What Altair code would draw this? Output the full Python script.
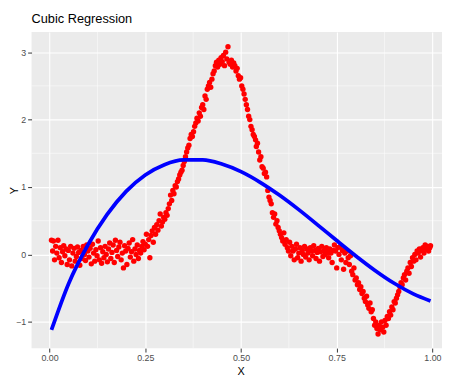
import altair as alt
import pandas as pd

# ---- data ----
seg_flat_left = [
    (0.005, 0.21), (0.008, 0.05), (0.010, 0.20), (0.013, -0.08), (0.016, 0.12), (0.019, 0.02),
    (0.022, 0.21), (0.025, -0.05), (0.028, 0.10), (0.031, -0.12), (0.034, 0.04), (0.037, 0.13),
    (0.040, -0.02), (0.043, 0.08), (0.046, -0.15), (0.049, 0.06), (0.052, -0.08), (0.055, 0.12),
    (0.058, -0.17), (0.061, 0.02), (0.064, 0.09), (0.067, -0.10), (0.070, -0.03), (0.073, 0.11),
    (0.076, 0.03), (0.079, -0.16), (0.082, 0.06), (0.085, -0.06), (0.088, 0.12), (0.091, 0.00),
    (0.094, -0.09), (0.097, 0.14), (0.100, 0.05), (0.103, -0.04), (0.106, 0.09), (0.109, -0.14),
    (0.112, 0.15), (0.115, 0.02), (0.118, -0.10), (0.121, 0.07), (0.124, -0.02), (0.127, 0.20),
    (0.130, -0.08), (0.133, 0.10), (0.136, -0.13), (0.139, 0.04), (0.142, -0.05), (0.145, 0.12),
    (0.148, 0.00), (0.151, -0.11), (0.154, 0.08), (0.157, 0.17), (0.160, -0.06), (0.163, 0.03),
    (0.166, 0.14), (0.169, -0.12), (0.172, 0.21), (0.175, 0.06), (0.178, -0.03), (0.181, 0.11),
    (0.184, 0.18), (0.187, -0.08), (0.190, 0.02), (0.193, -0.20), (0.196, 0.13), (0.199, 0.05),
    (0.202, -0.15), (0.205, 0.09), (0.208, 0.17), (0.211, -0.04), (0.214, 0.04), (0.217, 0.22),
    (0.220, -0.10), (0.223, 0.08), (0.226, 0.00), (0.229, 0.14), (0.232, -0.06), (0.235, 0.06),
    (0.238, 0.02), (0.241, 0.12), (0.244, 0.19), (0.247, 0.07),
]
seg_rise = [
    (0.250, 0.15), (0.253, 0.30), (0.256, 0.12), (0.259, 0.22), (0.262, -0.05), (0.265, 0.28),
    (0.268, 0.35), (0.271, 0.18), (0.274, 0.40), (0.277, 0.30), (0.280, 0.44), (0.283, 0.36),
    (0.286, 0.50), (0.289, 0.60), (0.292, 0.42), (0.295, 0.48), (0.298, 0.55), (0.301, 0.52),
    (0.304, 0.62), (0.307, 0.58), (0.310, 0.68), (0.313, 0.75), (0.316, 0.88), (0.319, 0.80),
    (0.322, 0.95), (0.325, 0.90), (0.328, 1.02), (0.331, 1.00), (0.334, 1.08), (0.337, 1.12),
    (0.340, 1.18), (0.343, 1.22), (0.346, 1.25), (0.349, 1.32), (0.352, 1.38), (0.355, 1.45),
    (0.358, 1.52), (0.361, 1.58), (0.364, 1.62), (0.367, 1.72), (0.370, 1.78), (0.373, 1.75),
    (0.376, 1.82), (0.379, 1.90),
]
seg_peak = [
    (0.382, 1.95), (0.385, 2.02), (0.388, 1.98), (0.391, 2.10), (0.394, 2.05), (0.397, 2.18),
    (0.400, 2.22), (0.403, 2.15), (0.406, 2.35), (0.409, 2.30), (0.412, 2.45), (0.415, 2.50),
    (0.418, 2.55), (0.421, 2.48), (0.424, 2.60), (0.427, 2.68), (0.430, 2.72), (0.433, 2.80),
    (0.436, 2.85), (0.439, 2.78), (0.442, 2.88), (0.445, 2.82), (0.448, 2.92), (0.451, 2.86),
    (0.454, 2.95), (0.457, 2.80), (0.460, 3.00), (0.463, 2.90), (0.466, 3.08), (0.469, 2.85),
    (0.472, 2.82), (0.475, 2.88), (0.478, 2.78), (0.481, 2.84), (0.484, 2.80), (0.487, 2.72),
    (0.490, 2.76), (0.493, 2.65), (0.496, 2.60), (0.499, 2.62), (0.502, 2.50), (0.505, 2.45),
    (0.508, 2.38), (0.511, 2.30), (0.514, 2.22), (0.517, 2.15), (0.520, 2.05), (0.523, 2.00),
    (0.526, 1.90), (0.529, 1.85), (0.532, 1.78), (0.535, 1.75), (0.538, 1.70),
]
seg_fall = [
    (0.540, 1.60), (0.543, 1.65), (0.546, 1.52), (0.549, 1.40), (0.552, 1.45), (0.555, 1.30),
    (0.558, 1.28), (0.561, 1.20), (0.564, 1.22), (0.567, 1.15), (0.570, 0.95), (0.573, 0.85),
    (0.576, 0.80), (0.579, 0.75), (0.582, 0.62), (0.585, 0.55), (0.588, 0.60), (0.591, 0.45),
    (0.594, 0.50), (0.597, 0.40), (0.600, 0.35), (0.603, 0.30), (0.606, 0.25), (0.609, 0.20),
    (0.612, 0.32), (0.615, 0.15), (0.618, 0.22), (0.621, 0.10), (0.624, 0.05),
]
seg_flat_mid = [
    (0.627, 0.18), (0.630, -0.02), (0.633, 0.12), (0.636, 0.05), (0.639, -0.08), (0.642, 0.08),
    (0.645, 0.15), (0.648, -0.05), (0.651, 0.02), (0.654, 0.10), (0.657, -0.10), (0.660, 0.06),
    (0.663, 0.00), (0.666, 0.12), (0.669, -0.04), (0.672, 0.08), (0.675, 0.02), (0.678, -0.08),
    (0.681, 0.10), (0.684, 0.05), (0.687, -0.02), (0.690, 0.13), (0.693, 0.06), (0.696, -0.06),
    (0.699, 0.03), (0.702, 0.09), (0.705, -0.10), (0.708, 0.04), (0.711, 0.12), (0.714, -0.03),
    (0.717, 0.06), (0.720, 0.00), (0.723, 0.10), (0.726, 0.03), (0.729, -0.05), (0.732, 0.08),
    (0.735, 0.02), (0.738, -0.12), (0.741, 0.06), (0.744, 0.14), (0.747, 0.05), (0.750, -0.20),
    (0.753, 0.10), (0.756, 0.00), (0.759, 0.12), (0.762, -0.08), (0.765, 0.06), (0.768, -0.22),
    (0.771, 0.02), (0.774, -0.12), (0.777, 0.05), (0.780, -0.05), (0.783, -0.15), (0.786, -0.02),
    (0.789, -0.25),
]
seg_drop = [
    (0.792, -0.30), (0.795, -0.20), (0.798, -0.38), (0.801, -0.35), (0.804, -0.45), (0.807, -0.42),
    (0.810, -0.52), (0.813, -0.48), (0.816, -0.58), (0.819, -0.55), (0.822, -0.65), (0.825, -0.70),
    (0.828, -0.62), (0.831, -0.75), (0.834, -0.80), (0.837, -0.72), (0.840, -0.85), (0.843, -0.82),
    (0.846, -0.95), (0.849, -1.05), (0.852, -1.00), (0.855, -1.10), (0.858, -1.18), (0.861, -1.05),
    (0.864, -1.12), (0.867, -1.00), (0.870, -1.08), (0.873, -1.15), (0.876, -0.98), (0.879, -1.05),
]
seg_rise_right = [
    (0.882, -0.92), (0.885, -0.95), (0.888, -0.85), (0.891, -0.90), (0.894, -0.78), (0.897, -0.82),
    (0.900, -0.70), (0.903, -0.72), (0.906, -0.65), (0.909, -0.60), (0.912, -0.55), (0.915, -0.48),
    (0.918, -0.42), (0.921, -0.45), (0.924, -0.35), (0.927, -0.30), (0.930, -0.38), (0.933, -0.25),
    (0.936, -0.20), (0.939, -0.28), (0.942, -0.12), (0.945, -0.18), (0.948, -0.05), (0.951, -0.10),
    (0.954, 0.00), (0.957, -0.08), (0.960, 0.05), (0.963, 0.02), (0.966, 0.08), (0.969, -0.04),
    (0.972, 0.06), (0.975, 0.10), (0.978, 0.02), (0.981, 0.14), (0.984, 0.08), (0.987, 0.12),
    (0.990, 0.05), (0.993, 0.10), (0.995, 0.13),
]

# cubic regression curve
curve_x = [0.005, 0.05, 0.10, 0.15, 0.20, 0.25, 0.30, 0.35, 0.40, 0.45, 0.50,
           0.55, 0.60, 0.65, 0.70, 0.75, 0.80, 0.85, 0.90, 0.95, 0.995]
curve_y = [-1.12, -0.43, 0.14, 0.59, 0.935, 1.178, 1.331, 1.402, 1.402, 1.341, 1.228,
           1.07, 0.881, 0.668, 0.439, 0.206, -0.022, -0.237, -0.428, -0.585, -0.69]

x_major = [0.0, 0.25, 0.5, 0.75, 1.0]
x_minor = [0.125, 0.375, 0.625, 0.875]
y_major = [-1, 0, 1, 2, 3]
y_minor = [-0.5, 0.5, 1.5, 2.5]

points = (seg_flat_left + seg_rise + seg_peak + seg_fall + seg_flat_mid
          + seg_drop + seg_rise_right)
pts = pd.DataFrame(points, columns=["X", "Y"])
curve = pd.DataFrame({"X": curve_x, "Y": curve_y})

FONT = "Liberation Sans"
x_scale = alt.Scale(domain=[-0.047, 1.025], nice=False, zero=False)
y_scale = alt.Scale(domain=[-1.39, 3.30], nice=False, zero=False)

x_axis = alt.Axis(values=x_major, format=".2f", title="X", titleX=213,
                  grid=True, gridColor="white", gridWidth=1.1)
y_axis = alt.Axis(values=y_major, format="d", title="Y",
                  titleX=-17, titleY=161, titleAngle=270, titleAlign="center",
                  titleBaseline="middle",
                  grid=True, gridColor="white", gridWidth=1.1)

minor_v = alt.Chart(pd.DataFrame({"X": x_minor})).mark_rule(
    color="white", strokeWidth=0.5).encode(x=alt.X("X:Q", scale=x_scale, axis=x_axis))
minor_h = alt.Chart(pd.DataFrame({"Y": y_minor})).mark_rule(
    color="white", strokeWidth=0.5).encode(y=alt.Y("Y:Q", scale=y_scale, axis=y_axis))

scatter = alt.Chart(pts).mark_circle(color="#FF0000", size=30, opacity=1).encode(
    x=alt.X("X:Q", scale=x_scale, axis=x_axis),
    y=alt.Y("Y:Q", scale=y_scale, axis=y_axis),
)
line = alt.Chart(curve).mark_line(color="#0000FF", strokeWidth=3.8,
                                  interpolate="monotone").encode(
    x=alt.X("X:Q", scale=x_scale, axis=x_axis),
    y=alt.Y("Y:Q", scale=y_scale, axis=y_axis),
)

chart = alt.layer(minor_v, minor_h, scatter, line).properties(
    width=418, height=322,
    autosize=alt.AutoSizeParams(type="none"),
    padding={"left": 24, "top": 21, "right": 0, "bottom": 26},
    title=alt.TitleParams("Cubic Regression", anchor="start", frame="group",
                          font=FONT, fontSize=13, fontWeight="normal", color="black",
                          baseline="alphabetic", offset=7, dy=11),
).configure_view(
    fill="#EBEBEB", stroke=None
).configure_axis(
    domain=False, tickColor="#333333", tickSize=4, tickWidth=1,
    labelColor="#4D4D4D", labelFont=FONT, labelFontSize=9, labelPadding=2,
    titleFont=FONT, titleFontSize=11, titleFontWeight="normal", titleColor="black",
    titlePadding=3,
)

chart.save("out.html", embed_options={"renderer": "svg", "actions": False})
